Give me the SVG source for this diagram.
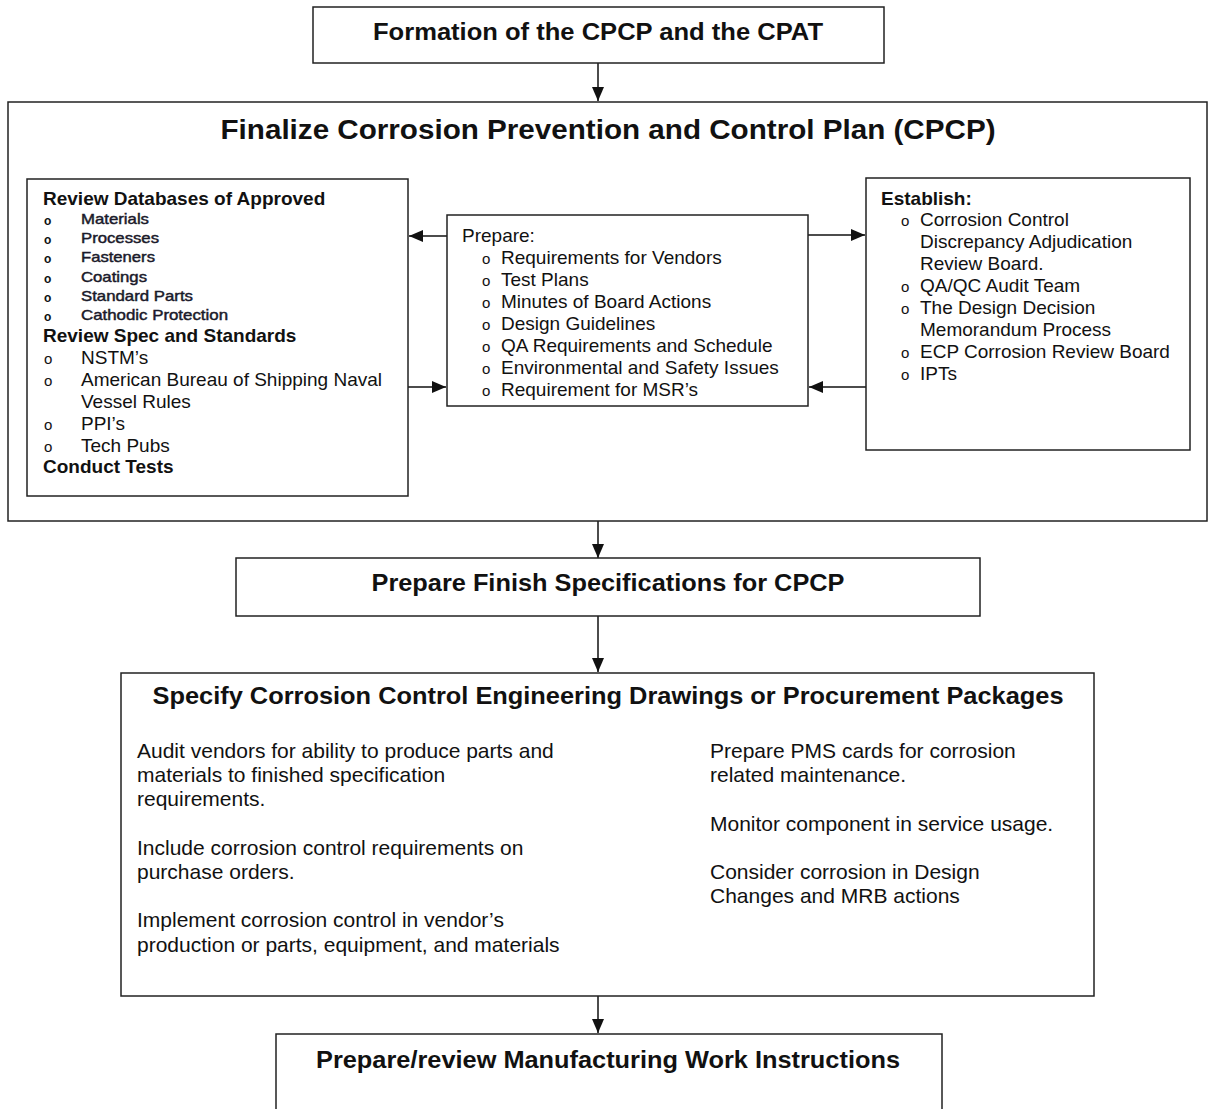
<svg xmlns="http://www.w3.org/2000/svg" width="1208" height="1109" viewBox="0 0 1208 1109">
<style>
.box{fill:#fff;stroke:#222;stroke-width:1.5}
text{font-family:"Liberation Sans",Arial,sans-serif;fill:#111}
.t{font-weight:bold;font-size:24px;text-anchor:middle}
.h{font-weight:bold;font-size:19px}
.b{font-size:19px}
.s{font-size:14.5px;fill:#1a1a2a;stroke:#1a1a2a;stroke-width:0.45}
.so{font-size:12px;font-weight:bold}
.o{font-size:15px}
.p{font-size:21px}
.c{stroke:#111;stroke-width:1.5;fill:none;marker-end:url(#ah)}
</style>
<defs>
<marker id="ah" markerUnits="userSpaceOnUse" markerWidth="14" markerHeight="12" refX="14" refY="6" orient="auto">
<path d="M0,0 L14,6 L0,12 z" fill="#111"/>
</marker>
</defs>
<rect width="1208" height="1109" fill="#fff"/>

<g id="connectors">
<line class="c" x1="598" y1="63" x2="598" y2="101"/>
<line class="c" x1="598" y1="521" x2="598" y2="558"/>
<line class="c" x1="598" y1="616" x2="598" y2="672"/>
<line class="c" x1="598" y1="996" x2="598" y2="1033"/>
</g>

<g id="n-formation">
<rect class="box" x="313" y="7" width="571" height="56"/>
<text class="t" x="598" y="40" textLength="450" lengthAdjust="spacingAndGlyphs">Formation of the CPCP and the CPAT</text>
</g>

<g id="n-finalize">
<rect class="box" x="8" y="102" width="1199" height="419"/>
<text class="t" x="608" y="139" style="font-size:28px" textLength="775" lengthAdjust="spacingAndGlyphs">Finalize Corrosion Prevention and Control Plan (CPCP)</text>
</g>

<g id="inner-connectors">
<line class="c" x1="447" y1="236" x2="409" y2="236"/>
<line class="c" x1="408" y1="387" x2="446" y2="387"/>
<line class="c" x1="808" y1="235" x2="865" y2="235"/>
<line class="c" x1="866" y1="387" x2="809" y2="387"/>
</g>

<g id="n-review">
<rect class="box" x="27" y="179" width="381" height="317"/>
<text class="h" x="43" y="205">Review Databases of Approved</text>
<text class="so" x="44" y="225">o</text><text class="s" x="81" y="224" textLength="68" lengthAdjust="spacingAndGlyphs">Materials</text>
<text class="so" x="44" y="244">o</text><text class="s" x="81" y="243" textLength="78" lengthAdjust="spacingAndGlyphs">Processes</text>
<text class="so" x="44" y="263">o</text><text class="s" x="81" y="262" textLength="74" lengthAdjust="spacingAndGlyphs">Fasteners</text>
<text class="so" x="44" y="283">o</text><text class="s" x="81" y="282" textLength="66" lengthAdjust="spacingAndGlyphs">Coatings</text>
<text class="so" x="44" y="302">o</text><text class="s" x="81" y="301" textLength="112" lengthAdjust="spacingAndGlyphs">Standard Parts</text>
<text class="so" x="44" y="321">o</text><text class="s" x="81" y="320" textLength="147" lengthAdjust="spacingAndGlyphs">Cathodic Protection</text>
<text class="h" x="43" y="342">Review Spec and Standards</text>
<text class="o" x="44" y="364">o</text><text class="b" x="81" y="364">NSTM’s</text>
<text class="o" x="44" y="386">o</text><text class="b" x="81" y="386">American Bureau of Shipping Naval</text>
<text class="b" x="81" y="408">Vessel Rules</text>
<text class="o" x="44" y="430">o</text><text class="b" x="81" y="430">PPI’s</text>
<text class="o" x="44" y="452">o</text><text class="b" x="81" y="452">Tech Pubs</text>
<text class="h" x="43" y="473">Conduct Tests</text>
</g>

<g id="n-prepare">
<rect class="box" x="447" y="215" width="361" height="191"/>
<text class="b" x="462" y="242">Prepare:</text>
<text class="o" x="482" y="264">o</text><text class="b" x="501" y="264">Requirements for Vendors</text>
<text class="o" x="482" y="286">o</text><text class="b" x="501" y="286">Test Plans</text>
<text class="o" x="482" y="308">o</text><text class="b" x="501" y="308">Minutes of Board Actions</text>
<text class="o" x="482" y="330">o</text><text class="b" x="501" y="330">Design Guidelines</text>
<text class="o" x="482" y="352">o</text><text class="b" x="501" y="352">QA Requirements and Schedule</text>
<text class="o" x="482" y="374">o</text><text class="b" x="501" y="374">Environmental and Safety Issues</text>
<text class="o" x="482" y="396">o</text><text class="b" x="501" y="396">Requirement for MSR’s</text>
</g>

<g id="n-establish">
<rect class="box" x="866" y="178" width="324" height="272"/>
<text class="h" x="881" y="205">Establish:</text>
<text class="o" x="901" y="226">o</text><text class="b" x="920" y="226">Corrosion Control</text>
<text class="b" x="920" y="248">Discrepancy Adjudication</text>
<text class="b" x="920" y="270">Review Board.</text>
<text class="o" x="901" y="292">o</text><text class="b" x="920" y="292">QA/QC Audit Team</text>
<text class="o" x="901" y="314">o</text><text class="b" x="920" y="314">The Design Decision</text>
<text class="b" x="920" y="336">Memorandum Process</text>
<text class="o" x="901" y="358">o</text><text class="b" x="920" y="358">ECP Corrosion Review Board</text>
<text class="o" x="901" y="380">o</text><text class="b" x="920" y="380">IPTs</text>
</g>

<g id="n-finish">
<rect class="box" x="236" y="558" width="744" height="58"/>
<text class="t" x="608" y="591" textLength="473" lengthAdjust="spacingAndGlyphs">Prepare Finish Specifications for CPCP</text>
</g>

<g id="n-specify">
<rect class="box" x="121" y="673" width="973" height="323"/>
<text class="t" x="608" y="704" textLength="911" lengthAdjust="spacingAndGlyphs">Specify Corrosion Control Engineering Drawings or Procurement Packages</text>
<text class="p" x="137" y="758">Audit vendors for ability to produce parts and</text>
<text class="p" x="137" y="782">materials to finished specification</text>
<text class="p" x="137" y="806">requirements.</text>
<text class="p" x="137" y="855">Include corrosion control requirements on</text>
<text class="p" x="137" y="879">purchase orders.</text>
<text class="p" x="137" y="927">Implement corrosion control in vendor’s</text>
<text class="p" x="137" y="952">production or parts, equipment, and materials</text>
<text class="p" x="710" y="758">Prepare PMS cards for corrosion</text>
<text class="p" x="710" y="782">related maintenance.</text>
<text class="p" x="710" y="831">Monitor component in service usage.</text>
<text class="p" x="710" y="879">Consider corrosion in Design</text>
<text class="p" x="710" y="903">Changes and MRB actions</text>
</g>

<g id="n-manufacturing">
<rect class="box" x="276" y="1034" width="666" height="100"/>
<text class="t" x="608" y="1068" textLength="584" lengthAdjust="spacingAndGlyphs">Prepare/review Manufacturing Work Instructions</text>
</g>
</svg>
